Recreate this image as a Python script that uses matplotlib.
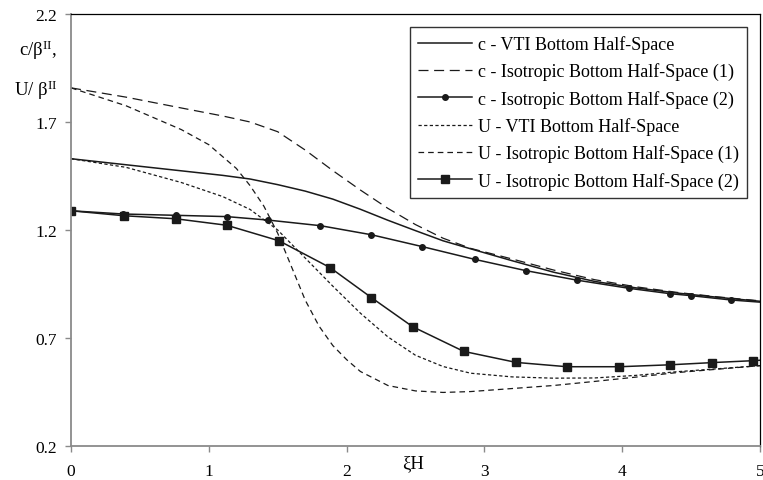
import matplotlib
matplotlib.use("Agg")
import matplotlib.pyplot as plt

plt.rcParams['font.family'] = ['Liberation Serif', 'DejaVu Serif']
plt.rcParams['mathtext.fontset'] = 'custom'
plt.rcParams['mathtext.rm'] = 'Liberation Serif'
plt.rcParams['mathtext.it'] = 'Liberation Serif:italic'

# values
xi_c = [0, 0.4, 0.8, 1.1, 1.3, 1.5, 1.7, 1.9, 2.1, 2.3, 2.5, 2.7, 2.9,
        3.2, 3.5, 3.8, 4.1, 4.4, 4.7, 5.0]
c_vti = [1.530, 1.502, 1.474, 1.453, 1.436, 1.410, 1.380, 1.343, 1.296, 1.245,
         1.197, 1.150, 1.113, 1.058, 1.005, 0.962, 0.932, 0.908, 0.888, 0.870]
c_iso1 = [1.858, 1.815, 1.765, 1.728, 1.700, 1.655, 1.570, 1.475, 1.385, 1.300,
          1.225, 1.162, 1.115, 1.066, 1.015, 0.970, 0.937, 0.911, 0.890, 0.872]

xi_c2 = [0, 0.38, 0.76, 1.13, 1.43, 1.81, 2.18, 2.55, 2.93, 3.30, 3.67, 4.05,
         4.35, 4.50, 4.79, 5.0]
c_iso2 = [1.289, 1.274, 1.268, 1.262, 1.246, 1.220, 1.178, 1.123, 1.064, 1.012,
          0.968, 0.930, 0.905, 0.896, 0.876, 0.866]

xi_u = [0, 0.4, 0.8, 1.1, 1.3, 1.5, 1.7, 1.9, 2.1, 2.3, 2.5, 2.7, 2.9,
        3.2, 3.5, 3.8, 4.1, 4.4, 4.7, 5.0]
u_vti = [1.530, 1.490, 1.420, 1.355, 1.295, 1.200, 1.070, 0.940, 0.815, 0.705,
         0.620, 0.568, 0.537, 0.520, 0.514, 0.515, 0.527, 0.544, 0.558, 0.572]

xi_u1 = [0, 0.4, 0.8, 1.0, 1.2, 1.3, 1.4, 1.5, 1.6, 1.7, 1.8, 1.9, 2.0, 2.1,
         2.3, 2.5, 2.7, 2.9, 3.2, 3.5, 3.8, 4.1, 4.4, 4.7, 5.0]
u_iso1 = [1.858, 1.775, 1.665, 1.595, 1.485, 1.405, 1.310, 1.185, 1.030, 0.875,
          0.755, 0.665, 0.600, 0.545, 0.480, 0.455, 0.448, 0.452, 0.466, 0.480,
          0.499, 0.519, 0.540, 0.556, 0.572]

xi_u2 = [0, 0.385, 0.76, 1.13, 1.51, 1.88, 2.18, 2.48, 2.85, 3.23, 3.60, 3.98,
         4.35, 4.65, 4.95, 5.0]
u_iso2 = [1.289, 1.266, 1.252, 1.222, 1.150, 1.026, 0.887, 0.752, 0.638, 0.587,
          0.567, 0.567, 0.576, 0.586, 0.595, 0.597]

labels = ['c - VTI Bottom Half-Space',
          'c - Isotropic Bottom Half-Space (1)',
          'c - Isotropic Bottom Half-Space (2)',
          'U - VTI Bottom Half-Space',
          'U - Isotropic Bottom Half-Space (1)',
          'U - Isotropic Bottom Half-Space (2)']

fig = plt.figure(figsize=(7.63, 4.81), dpi=100)
ax = fig.add_axes([71 / 763, 1 - 447 / 481, 689 / 763, 432 / 481])

k = '#1a1a1a'
ax.plot(xi_c, c_vti, color=k, lw=1.1, label=labels[0])
ax.plot(xi_c, c_iso1, color=k, lw=0.9, dashes=(8, 4.5), label=labels[1])
ax.plot(xi_c2, c_iso2, color=k, lw=1.1, marker='o', ms=4.0,
        markevery=list(range(len(xi_c2) - 1)), label=labels[2])
ax.plot(xi_u, u_vti, color=k, lw=0.9, dashes=(2.6, 1.9), label=labels[3])
ax.plot(xi_u1, u_iso1, color=k, lw=0.9, dashes=(4.5, 3.2), label=labels[4])
ax.plot(xi_u2, u_iso2, color=k, lw=1.1, marker='s', ms=5.5,
        markevery=list(range(len(xi_u2) - 1)), label=labels[5])

ax.set_xlim(0, 5)
ax.set_ylim(0.2, 2.2)
ax.set_xticks([0, 1, 2, 3, 4, 5])
ax.set_yticks([0.2, 0.7, 1.2, 1.7, 2.2])
ax.set_yticklabels(['0.2', '0.7', '1.2', '1.7', '2.2'])

gray = '#8a8a8a'
for s in ('left', 'bottom'):
    ax.spines[s].set_color(gray)
    ax.spines[s].set_linewidth(1.3)
for s in ('top', 'right'):
    ax.spines[s].set_color('black')
    ax.spines[s].set_linewidth(0.9)
ax.tick_params(direction='out', length=4, width=1, color=gray,
               labelsize=12.5, pad=6)
ax.tick_params(axis='x', pad=8)

ax.set_xlabel('ξH', fontsize=13.5)
ax.xaxis.set_label_coords(0.496, -0.018)

fig.text(57 / 763, 1 - 50 / 481, 'c/β$^{\\mathrm{II}}$,', ha='right',
         va='center', fontsize=13.5)
fig.text(57 / 763, 1 - 90 / 481, 'U/ β$^{\\mathrm{II}}$', ha='right',
         va='center', fontsize=13.5)

leg = ax.legend(loc='upper right', bbox_to_anchor=(0.981, 0.970),
                borderaxespad=0, fancybox=False, fontsize=13,
                handlelength=3.0, handletextpad=0.3, labelspacing=0.52,
                borderpad=0.45, edgecolor='#333333', framealpha=1)
leg.get_frame().set_linewidth(1.0)

fig.savefig('out.png', dpi=100)
